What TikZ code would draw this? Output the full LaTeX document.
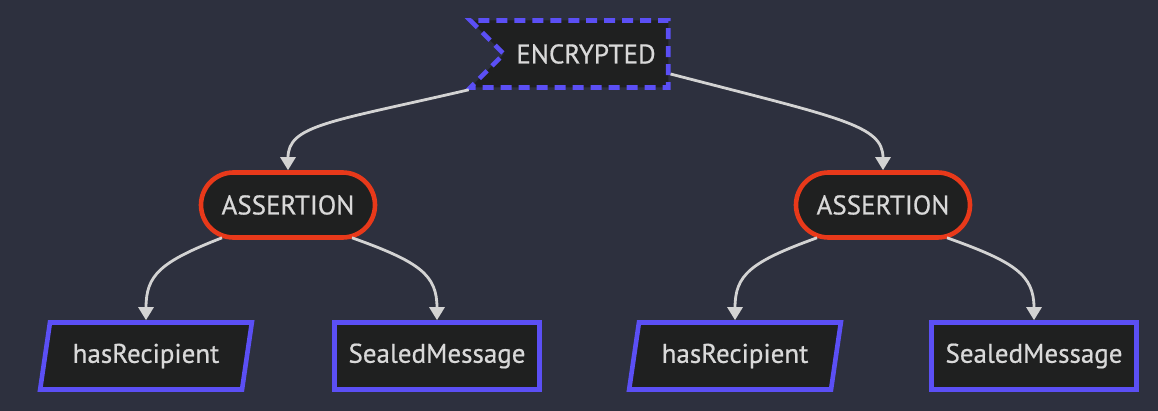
\documentclass[tikz,border=0pt]{standalone}
\usepackage{fontspec}
\setmainfont[FakeBold=0.6]{PT Sans}
\usetikzlibrary{shapes.geometric,shapes.misc,shapes.symbols,arrows.meta}
\definecolor{bg}{HTML}{2D303E}
\definecolor{nodefill}{HTML}{1F2020}
\definecolor{blueline}{HTML}{5B4FF5}
\definecolor{redline}{HTML}{E8391A}
\definecolor{txt}{HTML}{D9D9D9}
\definecolor{edgec}{HTML}{D3D3D3}
\tikzset{
  base/.style={fill=nodefill, text=txt, font=\fontsize{27}{32}\selectfont, line width=4.6pt, inner sep=0pt},
  encbox/.style={base, draw=blueline, dash pattern=on 11pt off 7pt, shape=signal, signal from=west, signal to=nowhere, signal pointer angle=90, inner xsep=11pt, minimum width=198pt, minimum height=67pt},
  assertbox/.style={base, draw=redline, rounded rectangle, minimum width=174pt, minimum height=65pt},
  parbox/.style={base, draw=blueline, trapezium, trapezium left angle=73, trapezium right angle=107, trapezium stretches=true, minimum width=212pt, minimum height=67pt},
  rectbox/.style={base, draw=blueline, rectangle, minimum width=205pt, minimum height=67pt},
  conn/.style={draw=edgec, line width=2.8pt, -{Triangle[width=15pt,length=13pt]}}
}
\begin{document}
\begin{tikzpicture}[x=1pt,y=-1pt]
\fill[bg] (0,0) rectangle (1158,411);
\useasboundingbox (0,0) rectangle (1158,411);
\node[encbox] (enc) at (586,54) {ENCRYPTED};
\node[assertbox] (a1) at (288,205) {ASSERTION};
\node[assertbox] (a2) at (883,205) {ASSERTION};
\node[parbox] (h1) at (146,356) {hasRecipient};
\node[rectbox] (s1) at (437,356) {SealedMessage};
\node[parbox] (h2) at (735,356) {hasRecipient};
\node[rectbox] (s2) at (1034,356) {SealedMessage};
\draw[conn] ([xshift=4pt]enc.south west) .. controls (330,122) and (288,125) .. (a1.north);
\draw[conn] ([yshift=-20pt]enc.east) .. controls (840,118) and (883,125) .. (a2.north);
\draw[conn] ([xshift=-66pt,yshift=2pt]a1.south) .. controls (160,262) and (146,275) .. (h1.north);
\draw[conn] ([xshift=64pt,yshift=2pt]a1.south) .. controls (420,262) and (437,275) .. (s1.north);
\draw[conn] ([xshift=-66pt,yshift=2pt]a2.south) .. controls (750,262) and (735,275) .. (h2.north);
\draw[conn] ([xshift=64pt,yshift=2pt]a2.south) .. controls (1015,262) and (1034,275) .. (s2.north);
\end{tikzpicture}
\end{document}
